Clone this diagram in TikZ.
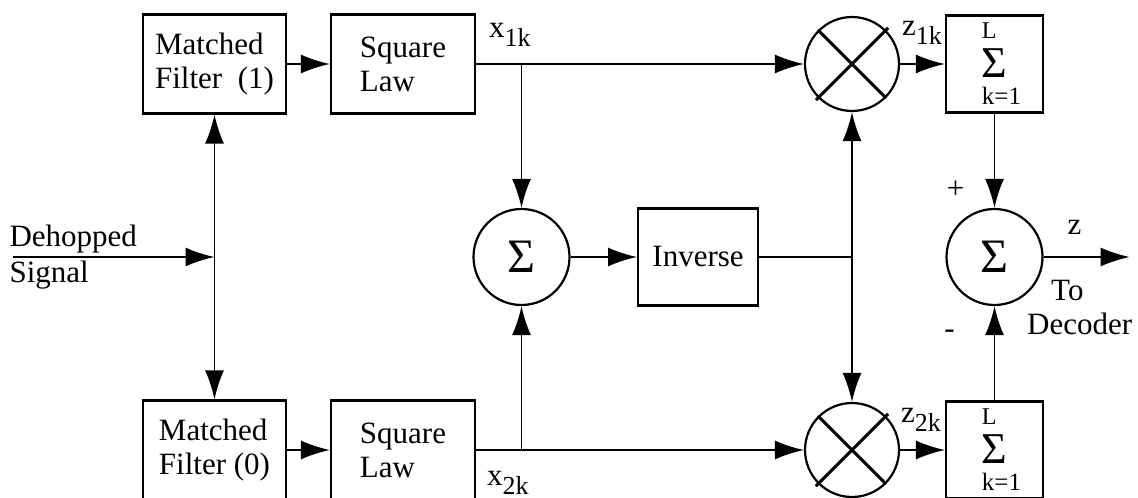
\documentclass[tikz,border=0pt]{standalone}
\usepackage{fontspec}
\setmainfont{Liberation Serif}
\usetikzlibrary{arrows.meta,positioning}
\newcommand{\sbs}[1]{\raisebox{-4.5pt}{\fontsize{13}{13}\selectfont #1}}
\newcommand{\accsum}{\hspace*{7pt}\vbox{\offinterlineskip
  \hbox{\fontsize{12}{12}\selectfont L}\kern5pt
  \hbox{\fontsize{22}{22}\selectfont Σ}\kern5pt
  \hbox{\fontsize{12.5}{12}\selectfont k=1}}}

\begin{document}
\begin{tikzpicture}[>={Latex[length=14.5pt,width=9.5pt]},line width=0.9pt,
  font=\fontsize{15.5}{17}\selectfont,
  box/.style={draw,line width=1.1pt,align=left,minimum width=72pt,minimum height=49.5pt,inner sep=0pt},
  ring/.style={draw,line width=1.1pt,circle,minimum size=47pt,inner sep=0pt},
  lab/.style={inner sep=0pt},
  xline/.style={line width=1.5pt,shorten <=-1.5pt,shorten >=-1.5pt}]
\useasboundingbox (0,0) rectangle (569pt,-248.5pt);
\node (mfone) [box,minimum width=71.5pt] at (107.25pt,-32pt) {Matched\\Filter\ \ (1)};
\node (sqone) [box,right=21.4pt of mfone] {Square\\Law};
\node (mulone) [ring,right=163.9pt of sqone] {};
\node (accone) [box,minimum width=48.5pt,minimum height=48.5pt,right=22.4pt of mulone] {\accsum};
\node (adder) [ring,minimum size=48pt] at (260.75pt,-128.5pt) {\fontsize{24}{24}\selectfont Σ};
\node (inverse) [box,minimum width=60pt,minimum height=48.5pt,right=33.2pt of adder] {Inverse};
\node (combiner) [ring,minimum size=48pt] at (accone |- adder) {\fontsize{24}{24}\selectfont Σ};
\node (mfzero) [box,minimum width=71.5pt,below=142.4pt of mfone] {Matched\\Filter (0)};
\node (sqzero) [box,right=21.4pt of mfzero] {Square\\Law};
\node (mulzero) [ring,right=163.9pt of sqzero] {};
\node (acczero) [box,minimum width=48.5pt,minimum height=48.5pt,right=22.4pt of mulzero] {\accsum};
\node (dehop) [align=left,anchor=west,font=\fontsize{15.5}{18}\selectfont] at (1pt,-128.5pt) {Dehopped\\Signal};
\foreach \m in {mulone,mulzero}
  \draw[xline] (\m.north west) -- (\m.south east) (\m.north east) -- (\m.south west);
\coordinate (src) at (6.5pt,-128.5pt);
\coordinate (split) at (mfone |- adder);
\coordinate (tapone) at (adder |- sqone);
\coordinate (tapzero) at (adder |- sqzero);
\coordinate (junc) at (mulone |- inverse);
\coordinate (out) at ([xshift=43pt]combiner.east);
\draw[->] (src) -- (split);
\draw[->] (split) -- (mfone);
\draw[->] (split) -- (mfzero);
\draw[->] (mfone) -- (sqone);
\draw[->] (mfzero) -- (sqzero);
\draw[->] (sqone) -- node[lab,pos=0,anchor=south west,xshift=6pt,yshift=8.5pt]{x\sbs{1k}} (mulone);
\draw[->] (sqzero) -- node[lab,pos=0,anchor=north west,xshift=5pt,yshift=-10pt]{x\sbs{2k}} (mulzero);
\draw[->] (tapone) -- (adder);
\draw[->] (tapzero) -- (adder);
\draw[->] (adder) -- (inverse);
\draw (inverse) -- (junc);
\draw[->] (junc) -- (mulone);
\draw[->] (junc) -- (mulzero);
\draw[->] (mulone) -- node[lab,pos=0,anchor=south west,xshift=0.5pt,yshift=9.5pt]{z\sbs{1k}} (accone);
\draw[->] (mulzero) -- node[lab,pos=0,anchor=south west,xshift=0pt,yshift=9pt]{z\sbs{2k}} (acczero);
\draw[->] (accone) -- node[lab,pos=0.81,left=14.6pt]{+} (combiner);
\draw[->] (acczero) -- node[lab,pos=0.7,left=19.4pt]{-} (combiner);
\draw[->] (combiner) -- node[lab,pos=0.36,above=11pt]{z}
  node[lab,pos=0.42,below=11pt,align=left]{\hspace*{12pt}To\\Decoder} (out);
\end{tikzpicture}
\end{document}
